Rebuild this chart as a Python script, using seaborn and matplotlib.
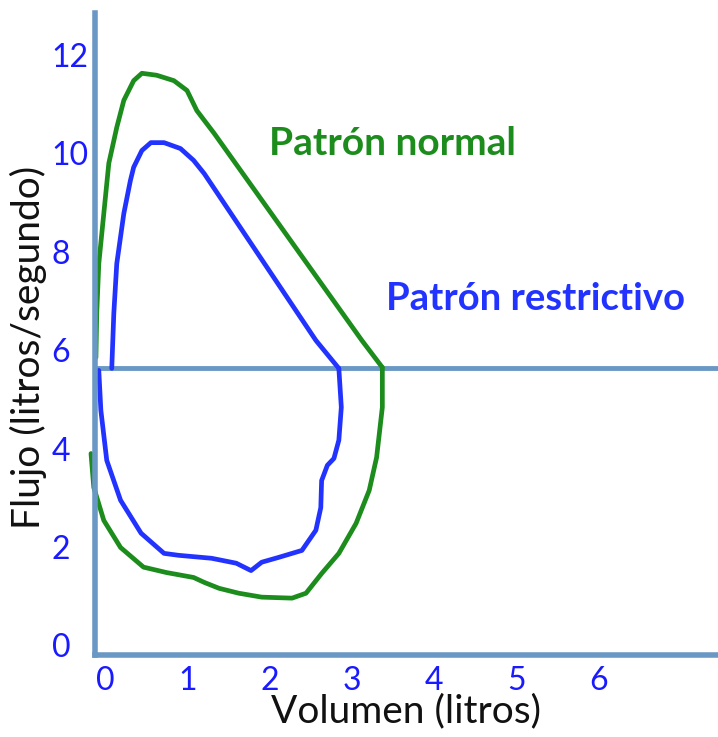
import matplotlib
matplotlib.use("Agg")
import matplotlib.pyplot as plt
import seaborn as sns

# --- Traced curve points (volumen in litros, flujo in litros/segundo) ---
normal_top_x = [-0.12, -0.11, -0.085, -0.024, 0.037, 0.134, 0.22, 0.34, 0.44, 0.62, 0.83, 0.99, 1.11, 1.32, 3.12, 3.37]
normal_top_y = [5.85, 6.75, 7.76, 8.78, 9.80, 10.53, 11.08, 11.48, 11.63, 11.59, 11.48, 11.28, 10.87, 10.41, 6.20, 5.65]

normal_bot_x = [3.37, 3.37, 3.30, 3.21, 3.05, 2.84, 2.63, 2.44, 2.27, 1.90, 1.62, 1.38, 1.20, 1.07, 0.74, 0.46, 0.18, -0.024, -0.146, -0.18]
normal_bot_y = [5.65, 4.84, 3.82, 3.15, 2.48, 1.87, 1.46, 1.06, 0.96, 0.98, 1.06, 1.16, 1.28, 1.38, 1.48, 1.59, 1.99, 2.54, 3.21, 3.90]

restr_top_x = [0.073, 0.098, 0.134, 0.22, 0.30, 0.34, 0.44, 0.55, 0.71, 0.91, 1.07, 1.20, 2.56, 2.84]
restr_top_y = [5.63, 6.75, 7.76, 8.78, 9.45, 9.72, 10.06, 10.22, 10.22, 10.10, 9.86, 9.59, 6.20, 5.63]

restr_bot_x = [2.84, 2.87, 2.84, 2.78, 2.70, 2.63, 2.62, 2.56, 2.39, 2.27, 2.11, 1.90, 1.77, 1.59, 1.29, 0.89, 0.71, 0.43, 0.18, 0.012, -0.06, -0.085]
restr_bot_y = [5.63, 4.84, 4.17, 3.80, 3.66, 3.35, 2.80, 2.34, 1.93, 1.87, 1.79, 1.69, 1.52, 1.67, 1.77, 1.83, 1.87, 2.28, 2.95, 3.76, 4.78, 5.59]

x_ticks = [0, 1, 2, 3, 4, 5, 6]
y_ticks = [0, 2, 4, 6, 8, 10, 12]
baseline_flow = 5.63

GREEN = "#1c8c1c"
BLUE = "#2233ff"
SPINE = "#6a98c4"
TICK = "#1a1aff"

sns.set_style("white")
plt.rcParams["font.family"] = ["Lato", "DejaVu Sans"]

fig = plt.figure(figsize=(7.18, 7.37), dpi=100)
ax = fig.add_axes([0.132, 0.111, 0.868, 0.871])

for xs, ys, c in [(normal_top_x, normal_top_y, GREEN), (normal_bot_x, normal_bot_y, GREEN),
                  (restr_top_x, restr_top_y, BLUE), (restr_bot_x, restr_bot_y, BLUE)]:
    sns.lineplot(x=xs, y=ys, sort=False, estimator=None, color=c, lw=3.4, ax=ax,
                 solid_capstyle="round", solid_joinstyle="round", clip_on=False)

ax.axhline(baseline_flow, color=SPINE, lw=3.5, zorder=1)

ax.set_xlim(-0.134, 7.46)
ax.set_ylim(-0.2, 12.85)

for s in ["top", "right"]:
    ax.spines[s].set_visible(False)
for s in ["left", "bottom"]:
    ax.spines[s].set_color(SPINE)
    ax.spines[s].set_linewidth(4)

ax.set_xticks(x_ticks)
ax.set_yticks(y_ticks)
ax.tick_params(axis="both", length=0, labelsize=23, labelcolor=TICK)
ax.tick_params(axis="x", pad=8)
ax.tick_params(axis="y", pad=31)
for lbl in ax.get_yticklabels():
    lbl.set_horizontalalignment("left")

ax.set_xlabel("Volumen (litros)", fontsize=28, color="#111111")
ax.xaxis.set_label_coords(0.5, -0.06)
ax.set_ylabel("Flujo (litros/segundo)", fontsize=28, color="#111111")
ax.yaxis.label.set_verticalalignment("center")
ax.yaxis.set_label_coords(-0.106, 0.48)

ax.text(1.99, 10.2, "Patrón normal", color=GREEN, fontsize=28, fontweight="bold", va="center", ha="left")
ax.text(3.41, 7.05, "Patrón restrictivo", color=BLUE, fontsize=27.5, fontweight="bold", va="center", ha="left")

fig.savefig("out.png", dpi=100)
